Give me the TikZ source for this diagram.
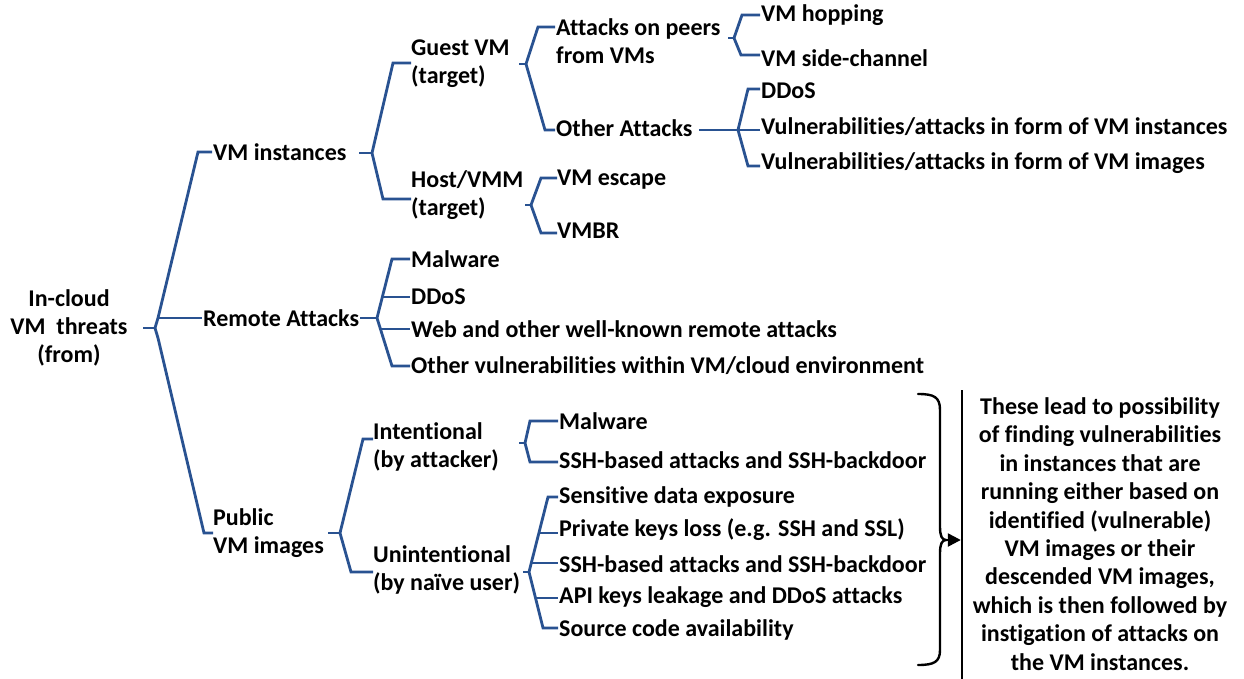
\documentclass[tikz,border=0pt]{standalone}
\usepackage{fontspec}
\setmainfont{Carlito}[Ligatures={NoCommon}]
\usetikzlibrary{arrows.meta}
\definecolor{lineblue}{RGB}{41,82,145}
\begin{document}
\begin{tikzpicture}[x=1pt,y=-1pt,
  br/.style={draw=lineblue,line width=2.8pt,line join=miter},
  lbl/.style={anchor=west,inner sep=0pt,font=\fontsize{24}{28}\selectfont\bfseries,align=left},
  clbl/.style={inner sep=0pt,font=\fontsize{24}{28}\selectfont\bfseries,align=center}]
\useasboundingbox (0,0) rectangle (1244,679);
\fill[white] (0,0) rectangle (1244,679);

% ---- text nodes
\node[clbl] (root) at (69,328) {In-cloud\\VM\ \ threats\\(from)};
\node[lbl] (vmi) at (213,152) {VM instances};
\node[lbl] (rem) at (203,318) {Remote Attacks};
\node[lbl] (pub) at (213,533) {Public\\VM images};
\node[lbl] (guest) at (411,64) {Guest VM\\(target)};
\node[lbl] (host) at (411,195) {Host/VMM\\(target)};
\node[lbl] (peers) at (556,41) {Attacks on peers\\from VMs};
\node[lbl] (other) at (556,128) {Other Attacks};
\node[lbl] (hop) at (761,15) {VM hopping};
\node[lbl] (side) at (761,58) {VM side-channel};
\node[lbl] (ddos1) at (761,91) {DDoS};
\node[lbl] (vinst) at (761,127) {Vulnerabilities/attacks in form of VM instances};
\node[lbl] (vimg) at (761,163) {Vulnerabilities/attacks in form of VM images};
\node[lbl] (esc) at (557,180) {VM escape};
\node[lbl] (vmbr) at (557,231) {VMBR};
\node[lbl] (mal1) at (411,259) {Malware};
\node[lbl] (ddos2) at (411,297) {DDoS};
\node[lbl] (web) at (411,329) {Web and other well-known remote attacks};
\node[lbl] (othv) at (411,366) {Other vulnerabilities within VM/cloud environment};
\node[lbl] (intent) at (373,447) {Intentional\\(by attacker)};
\node[lbl] (unint) at (373,570) {Unintentional\\(by naïve user)};
\node[lbl] (mal2) at (559,421) {Malware};
\node[lbl] (ssh1) at (559,460) {SSH-based attacks and SSH-backdoor};
\node[lbl] (sens) at (559,497) {Sensitive data exposure};
\node[lbl] (priv) at (559,530) {Private keys loss (e.g. SSH and SSL)};
\node[lbl] (ssh2) at (559,564) {SSH-based attacks and SSH-backdoor};
\node[lbl] (api) at (559,597) {API keys leakage and DDoS attacks};
\node[lbl] (src) at (559,630) {Source code availability};
\node[inner sep=0pt,font=\fontsize{24}{28.4}\selectfont\bfseries,align=center] (note) at (1100,534)
  {These lead to possibility\\of finding vulnerabilities\\in instances that are\\running either based on\\identified (vulnerable)\\VM images or their\\descended VM images,\\which is then followed by\\instigation of attacks on\\the VM instances.};

% ---- root bracket
\coordinate (t0) at (155,328);
\draw[br] (143,328) -- (t0);
\draw[br] (212,152) -- (198,152) -- (158,318) -- (t0) -- (158,338) -- (204,533) -- (213,533);
\draw[br] (158,318) -- (202,318);

% ---- VM instances bracket
\coordinate (t1) at (372,153);
\draw[br] (359,153) -- (t1);
\draw[br] (411,63) -- (393,63) -- (t1) -- (383,199) -- (411,199);

% ---- Guest VM bracket
\coordinate (t2) at (526,64);
\draw[br] (519,64) -- (t2);
\draw[br] (555,27) -- (538,27) -- (t2) -- (545,130) -- (555,130);

% ---- Attacks on peers bracket
\coordinate (t3) at (734,38);
\draw[br] (728,38) -- (t3);
\draw[br] (760,15) -- (742,15) -- (t3) -- (741,55) -- (760,55);

% ---- Other attacks bracket
\coordinate (t4) at (738,130);
\draw[br] (699,130) -- (t4) -- (760,130);
\draw[br] (760,89) -- (748,89) -- (t4) -- (748,166) -- (760,166);

% ---- Host/VMM bracket
\coordinate (t5) at (531,205);
\draw[br] (525,205) -- (t5);
\draw[br] (557,178) -- (541,178) -- (t5) -- (541,233) -- (557,233);

% ---- Remote attacks bracket
\coordinate (t6) at (377,318);
\draw[br] (360,318) -- (t6);
\draw[br] (410,259) -- (392,259) -- (t6) -- (392,366) -- (410,366);
\draw[br] (382,297) -- (410,297);
\draw[br] (380.4,329) -- (410,329);

% ---- Public VM images bracket
\coordinate (t7) at (340,533);
\draw[br] (328,533) -- (t7);
\draw[br] (373,439) -- (363,439) -- (t7) -- (351,572) -- (373,572);

% ---- Intentional bracket
\coordinate (t8) at (525,443);
\draw[br] (519,443) -- (t8);
\draw[br] (558,421) -- (530,421) -- (t8) -- (530,462) -- (558,462);

% ---- Unintentional bracket
\coordinate (t9) at (529,572);
\draw[br] (523,572) -- (t9);
\draw[br] (558,497) -- (548,497) -- (t9) -- (543,628) -- (558,628);
\draw[br] (539,533) -- (558,533);
\draw[br] (531,563) -- (558,563);
\draw[br] (535.5,598) -- (558,598);

% ---- brace, arrow and separator
\coordinate (btip) at (946,540);
\draw[line width=2.4pt,line cap=round] (918,394) .. controls (934,394) and (940,397) .. (940,410)
  -- (940,527) .. controls (940,536) and (942,540) .. (btip)
  .. controls (942,540) and (940,544) .. (940,553)
  -- (940,650) .. controls (940,662) and (934,665) .. (918,665);
\coordinate (sepA) at (962,390);
\coordinate (sepB) at (962,679);
\draw[line width=2.4pt] (sepA) -- (sepB);
\draw[line width=2.4pt,-{Triangle[length=13pt,width=13pt]}] (btip) -- ([xshift=-1.2pt]sepA |- btip);
\end{tikzpicture}
\end{document}
